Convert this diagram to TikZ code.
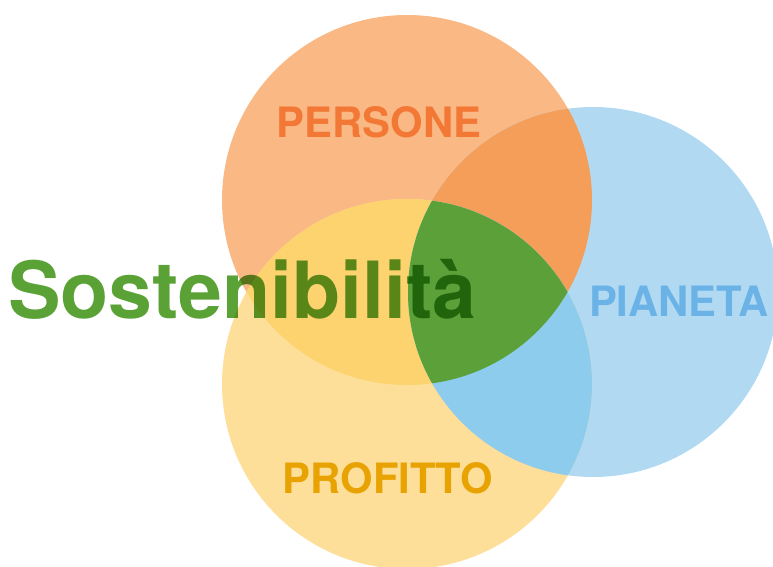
\documentclass[tikz,border=0pt]{standalone}
\usepackage{fontspec}
\setmainfont{TeX Gyre Heros}
\definecolor{cOr}{HTML}{F9B884}
\definecolor{cBl}{HTML}{B1DAF2}
\definecolor{cYe}{HTML}{FDDF99}
\definecolor{cOB}{HTML}{F59E5A}
\definecolor{cOY}{HTML}{FDD370}
\definecolor{cBY}{HTML}{8ECCEE}
\definecolor{cGr}{HTML}{5BA038}
\definecolor{tPe}{HTML}{F37735}
\definecolor{tPi}{HTML}{6BB3E7}
\definecolor{tPr}{HTML}{E8A302}
\definecolor{tSo}{HTML}{5BA236}
\tikzset{
  lab/.style={inner sep=0pt, anchor=base, font=\bfseries\fontsize{41.8}{42}\selectfont},
  big/.style={inner sep=0pt, anchor=base west, font=\bfseries\fontsize{78.8}{80}\selectfont, text=tSo}
}
\begin{document}
\begin{tikzpicture}[x=1pt,y=-1pt]
\useasboundingbox (0,0) rectangle (773,567);
\coordinate (P) at (407,200);
\coordinate (A) at (593,292);
\coordinate (F) at (407,384);
\fill[cOr] (P) circle[radius=185pt];
\fill[cBl] (A) circle[radius=185pt];
\fill[cYe] (F) circle[radius=185pt];
\begin{scope}
  \clip (P) circle[radius=185pt];
  \fill[cOB] (A) circle[radius=185pt];
  \fill[cOY] (F) circle[radius=185pt];
\end{scope}
\begin{scope}
  \clip (A) circle[radius=185pt];
  \fill[cBY] (F) circle[radius=185pt];
  \clip (P) circle[radius=185pt];
  \fill[cGr] (F) circle[radius=185pt];
\end{scope}
\node[lab, text=tPe] (persone) at (379,137) {PERSONE};
\node[lab, text=tPi] (pianeta) at (679,316) {PIANETA};
\node[lab, text=tPr] (profitto) at (388,493) {PROFITTO};
\begin{scope}[blend mode=multiply]
\node[big] (sost) at (8,318) {Sostenibilità};
\end{scope}
\end{tikzpicture}
\end{document}
